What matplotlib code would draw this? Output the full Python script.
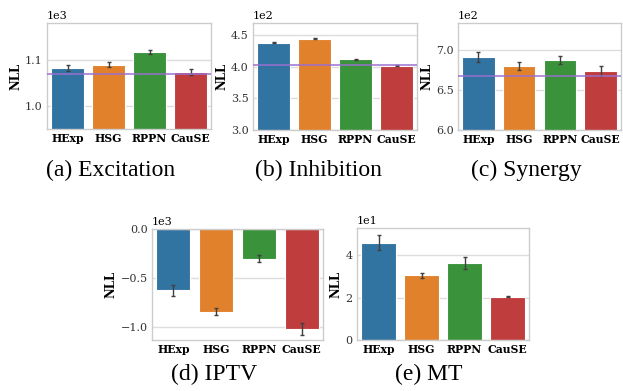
import numpy as np
from matplotlib import pyplot as plt

models = ['HExp', 'HSG', 'RPPN', 'CauSE']
colors = ['#3274a1', '#e1812c', '#3a923a', '#c03d3e']

# NLL means and error bars per dataset
exc_mean = [1083, 1091, 1119, 1075]
exc_err = [6, 6, 5, 6]
exc_line = 1070

inh_mean = [438, 444, 411.5, 401.5]
inh_err = [1.0, 1.0, 0.8, 0.8]
inh_line = 402

syn_mean = [691, 679, 687, 673]
syn_err = [6, 5, 5, 6]
syn_line = 667.5

iptv_mean = [-626, -840, -303, -1017]
iptv_err = [56, 38, 37, 60]

mt_mean = [46.0, 30.7, 36.4, 20.5]
mt_err = [3.6, 1.2, 2.8, 0.3]

captions = ['(a) Excitation', '(b) Inhibition', '(c) Synergy', '(d) IPTV', '(e) MT']

W, H = 623, 391
fig = plt.figure(figsize=(W / 100, H / 100), dpi=100)


def make_ax(x0, y0, x1, y1):
    # pixel box -> figure fraction
    return fig.add_axes([x0 / W, 1 - y1 / H, (x1 - x0) / W, (y1 - y0) / H])


def draw(ax, mean, err, ylim, yticks, line=None):
    x = np.arange(len(models))
    ax.bar(x, mean, width=0.8, color=colors, edgecolor='white', linewidth=0.8, zorder=2)
    ax.errorbar(x, mean, yerr=err, fmt='none', ecolor='#404040', elinewidth=1.0,
                capsize=1.5, capthick=1.0, zorder=3)
    if line is not None:
        ax.axhline(line, color='#9a6fd0', linewidth=1.2, alpha=0.9, zorder=4)
    ax.set_xlim(-0.5, 3.5)
    ax.set_ylim(*ylim)
    ax.set_yticks(yticks)
    ax.ticklabel_format(axis='y', style='sci', scilimits=(0, 0))
    ax.yaxis.get_offset_text().set_fontsize(8)
    ax.yaxis.get_offset_text().set_family('DejaVu Serif')
    ax.set_xticks(x)
    ax.set_xticklabels(models, fontweight='bold', fontsize=7.8, family='DejaVu Serif')
    for lab in ax.get_yticklabels():
        lab.set_family('DejaVu Serif')
        lab.set_fontsize(8)
        lab.set_color('#333333')
    ax.tick_params(length=0, pad=3)
    ax.grid(axis='y', color='#dddddd', linewidth=1.0, zorder=0)
    ax.set_axisbelow(True)
    for s in ax.spines.values():
        s.set_color('#cccccc')
        s.set_linewidth(1.0)
    ax.set_ylabel('NLL', fontweight='bold', fontsize=8.5, family='DejaVu Serif', labelpad=2)


axa = make_ax(47, 23, 211, 129)
draw(axa, exc_mean, exc_err, (950, 1182), [1000, 1100], exc_line)
axb = make_ax(253, 23, 417, 130)
draw(axb, inh_mean, inh_err, (300, 469), [300, 350, 400, 450], inh_line)
axc = make_ax(458, 23, 621, 130)
draw(axc, syn_mean, syn_err, (600, 733), [600, 650, 700], syn_line)
axd = make_ax(152, 229, 323, 340)
draw(axd, iptv_mean, iptv_err, (-1130, 0), [-1000, -500, 0])
axe = make_ax(357, 228, 529, 340)
draw(axe, mt_mean, mt_err, (0, 53), [0, 20, 40])

cap_pos = [(111, 170), (318, 170), (526, 170), (214, 374), (429, 374)]
for (cx, cy), txt in zip(cap_pos, captions):
    fig.text(cx / W, 1 - cy / H, txt, ha='center', va='center', fontsize=17,
             family='Liberation Serif')

plt.savefig('out.png', dpi=100)
